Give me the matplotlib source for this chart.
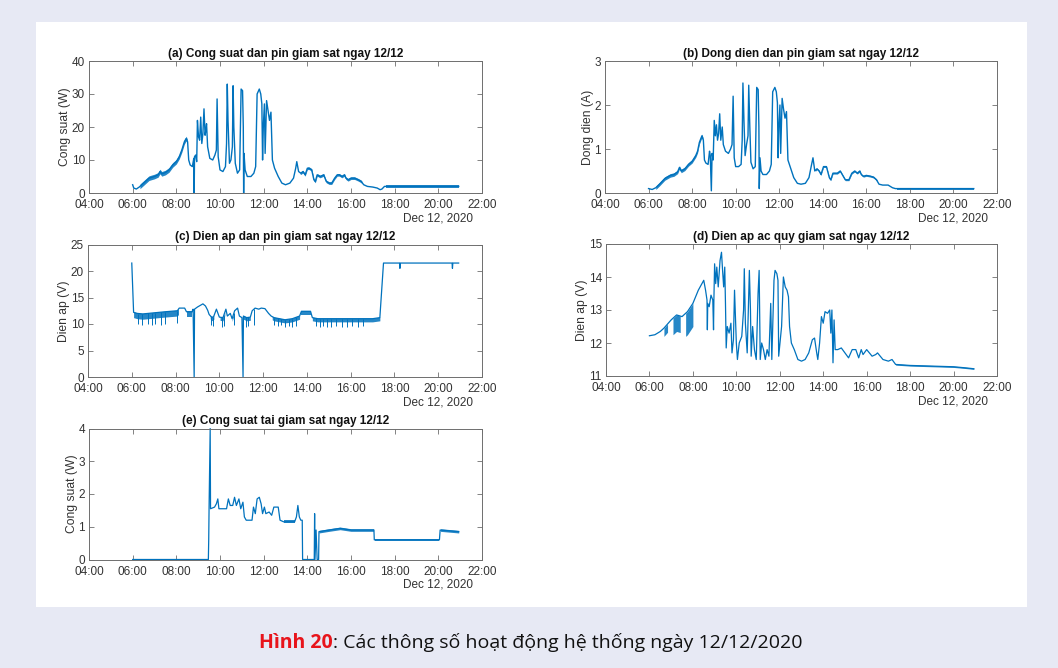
import matplotlib
matplotlib.use("Agg")
import matplotlib.pyplot as plt
from matplotlib.patches import Rectangle
import numpy as np

plt.rcParams['font.family'] = ['Liberation Sans', 'DejaVu Sans']

LINE = '#0072BD'
AXC = '#6e6e6e'
TXT = '#333333'

# ---- (a) panel power, W
a_time = ["6:00", "6:03", "6:10", "6:18", "6:30", "6:45", "7:00", "7:10", "7:15", "7:20",
          "7:30", "7:40", "7:50", "8:00", "8:08", "8:15", "8:22", "8:27", "8:31", "8:34",
          "8:38", "8:44", "8:48", "8:49", "8:50", "8:53", "8:56", "8:58", "9:01", "9:04",
          "9:07", "9:10", "9:13", "9:16", "9:19", "9:21", "9:23", "9:26", "9:32", "9:40",
          "9:46", "9:50", "9:52", "9:55", "10:00", "10:08", "10:15", "10:18", "10:20", "10:22",
          "10:26", "10:30", "10:34", "10:36", "10:38", "10:42", "10:48", "10:54", "10:58", "11:02",
          "11:04", "11:05", "11:06", "11:09", "11:15", "11:25", "11:33", "11:38", "11:42", "11:48",
          "11:52", "11:55", "11:57", "11:59", "12:02", "12:04", "12:08", "12:12", "12:16", "12:20",
          "12:24", "12:30", "12:40", "12:50", "13:00", "13:12", "13:22", "13:28", "13:31", "13:36",
          "13:42", "13:48", "13:54", "14:00", "14:05", "14:12", "14:18", "14:22", "14:27", "14:35",
          "14:45", "14:52", "15:00", "15:07", "15:15", "15:22", "15:28", "15:35", "15:42", "15:46",
          "15:52", "16:00", "16:10", "16:20", "16:28", "16:35", "16:45", "17:00", "17:12", "17:20",
          "17:25", "17:32", "18:00", "19:00", "20:00", "20:56"]
a_val = [2.5, 1.5, 1.2, 1.8, 3.0, 4.5, 5.0, 5.5, 6.5, 5.8,
         6.2, 7.0, 8.5, 9.5, 11.0, 13.0, 15.5, 16.5, 15.5, 10.0,
         8.5, 8.0, 10.5, 0.0, 11.0, 11.5, 9.5, 22.0, 17.0, 16.0,
         23.0, 15.0, 18.0, 25.5, 17.5, 19.0, 21.0, 14.0, 10.5, 10.0,
         11.5, 13.0, 28.5, 11.0, 7.0, 6.5, 8.0, 15.0, 33.0, 22.0,
         9.0, 10.0, 14.0, 32.5, 20.0, 9.0, 6.0, 7.0, 31.5, 31.0,
         20.0, 0.0, 12.0, 7.0, 5.0, 5.0, 6.0, 8.0, 30.0, 31.5,
         30.0, 27.0, 10.0, 20.0, 27.0, 12.0, 28.0, 25.0, 22.0, 24.5,
         10.0, 7.5, 5.0, 3.0, 2.5, 3.0, 4.5, 7.5, 9.5, 6.5,
         6.0, 6.5, 5.5, 7.5, 7.5, 7.0, 4.0, 3.5, 5.5, 5.0,
         5.5, 3.5, 3.0, 3.0, 4.5, 5.5, 5.5, 5.0, 5.5, 4.5,
         4.0, 4.5, 4.5, 4.0, 3.5, 2.5, 2.0, 1.8, 1.5, 1.0,
         1.2, 2.0, 2.0, 2.0, 2.0, 2.0]
# noisy stretches: (start, end, spread below, spread above)
a_band = [("6:20", "8:30", 0.7, 0.7), ("13:40", "16:30", 0.4, 0.4), ("17:35", "20:56", 0.5, 0.5)]

# ---- (b) panel current, A
b_time = ["6:00", "6:10", "6:20", "6:30", "6:45", "7:00", "7:10", "7:20", "7:25", "7:30",
          "7:40", "7:50", "8:00", "8:10", "8:15", "8:20", "8:27", "8:31", "8:34", "8:38",
          "8:44", "8:48", "8:50", "8:53", "8:55", "8:58", "9:01", "9:04", "9:07", "9:10",
          "9:13", "9:16", "9:19", "9:23", "9:26", "9:32", "9:40", "9:46", "9:50", "9:53",
          "9:56", "10:00", "10:08", "10:15", "10:18", "10:20", "10:23", "10:26", "10:30", "10:34",
          "10:36", "10:39", "10:42", "10:48", "10:54", "10:58", "11:02", "11:04", "11:05", "11:07",
          "11:10", "11:15", "11:25", "11:33", "11:38", "11:42", "11:48", "11:52", "11:55", "11:57",
          "11:59", "12:02", "12:04", "12:08", "12:12", "12:16", "12:20", "12:24", "12:30", "12:40",
          "12:50", "13:00", "13:12", "13:22", "13:28", "13:33", "13:38", "13:44", "13:50", "13:55",
          "14:02", "14:10", "14:18", "14:22", "14:28", "14:40", "14:48", "14:55", "15:02", "15:12",
          "15:20", "15:28", "15:35", "15:42", "15:46", "15:52", "16:00", "16:12", "16:20", "16:28",
          "16:35", "16:45", "17:00", "17:12", "17:20", "18:00", "19:00", "20:00", "20:56"]
b_val = [0.10, 0.08, 0.12, 0.20, 0.33, 0.40, 0.42, 0.48, 0.58, 0.50,
         0.55, 0.65, 0.72, 0.85, 0.95, 1.15, 1.30, 1.20, 0.75, 0.68,
         0.65, 0.95, 0.85, 0.05, 0.90, 0.75, 1.65, 1.30, 1.55, 1.20,
         1.35, 1.80, 1.20, 1.50, 1.10, 0.95, 0.90, 1.00, 1.10, 2.20,
         0.80, 0.60, 0.60, 0.65, 1.20, 2.50, 1.60, 0.85, 1.10, 1.30,
         2.45, 1.50, 0.70, 0.55, 0.60, 2.40, 2.35, 1.50, 0.10, 0.80,
         0.50, 0.42, 0.42, 0.50, 0.65, 2.30, 2.40, 2.30, 2.05, 0.80,
         1.50, 2.00, 0.90, 2.15, 1.90, 1.70, 1.85, 0.75, 0.60, 0.35,
         0.22, 0.20, 0.22, 0.35, 0.60, 0.80, 0.50, 0.55, 0.50, 0.42,
         0.60, 0.60, 0.35, 0.30, 0.45, 0.45, 0.50, 0.40, 0.30, 0.30,
         0.45, 0.50, 0.45, 0.50, 0.42, 0.38, 0.40, 0.38, 0.36, 0.30,
         0.20, 0.18, 0.18, 0.12, 0.10, 0.10, 0.10, 0.10, 0.10]
b_band = [("6:20", "8:30", 0.04, 0.04), ("13:40", "16:30", 0.02, 0.02), ("17:25", "20:56", 0.025, 0.025)]

# ---- (c) panel voltage, V
c_time = ["6:00", "6:05", "6:15", "6:30", "7:00", "7:30", "8:05", "8:10", "8:25", "8:30",
          "8:45", "8:48", "8:51", "8:52", "9:00", "9:10", "9:15", "9:22", "9:28", "9:32",
          "9:40", "9:45", "9:52", "10:00", "10:10", "10:18", "10:22", "10:30", "10:35", "10:42",
          "10:50", "10:55", "11:02", "11:05", "11:06", "11:15", "11:25", "11:30", "11:38", "11:48",
          "11:55", "12:05", "12:15", "12:22", "12:30", "12:45", "13:00", "13:20", "13:40", "13:45",
          "14:10", "14:15", "14:30", "15:00", "16:00", "17:00", "17:20", "17:30", "18:14", "18:15",
          "18:16", "20:38", "20:39", "20:40", "20:56"]
c_val = [21.5, 12.2, 12.0, 11.9, 12.1, 12.3, 12.5, 13.0, 13.0, 12.3,
         12.3, 12.8, 0.0, 12.8, 13.2, 13.6, 13.8, 13.4, 12.6, 11.8,
         11.2, 11.5, 12.8, 11.3, 11.2, 12.8, 11.5, 12.0, 11.0, 12.5,
         13.0, 11.5, 11.2, 0.0, 11.5, 11.2, 11.3, 12.5, 13.0, 12.8,
         13.0, 12.9, 12.0, 11.5, 11.2, 11.0, 10.8, 11.0, 11.5, 12.4,
         12.4, 11.2, 11.0, 11.0, 11.0, 11.0, 11.2, 21.5, 21.5, 20.5,
         21.5, 21.5, 20.5, 21.5, 21.5]
c_band = [("6:05", "8:08", 1.0, 0.1), ("8:30", "8:45", 0.9, 0.1), ("9:35", "9:45", 0.6, 0.1),
          ("10:02", "10:15", 0.6, 0.1), ("10:35", "10:40", 0.5, 0.1), ("11:06", "11:25", 0.6, 0.1),
          ("12:25", "13:40", 0.6, 0.1), ("13:45", "14:10", 0.7, 0.1), ("14:15", "17:20", 0.6, 0.1)]
c_dip_time = ["6:18", "6:28", "6:45", "6:55", "7:05", "7:20", "7:30", "8:05", "9:38", "9:43",
              "10:07", "10:12", "10:40", "11:13", "11:18", "11:35", "12:30", "12:40", "12:50", "13:00",
              "13:10", "13:20", "13:30", "14:25", "14:35", "14:45", "14:55", "15:05", "15:20", "15:35",
              "15:50", "16:05", "16:20", "16:35"]
c_dip_val = [10.0, 9.8, 10.0, 9.8, 10.0, 9.8, 10.0, 10.2, 9.8, 9.6,
             9.5, 9.6, 9.8, 9.5, 9.6, 9.8, 9.8, 9.6, 9.8, 9.5,
             9.6, 9.5, 9.6, 9.6, 9.4, 9.6, 9.5, 9.4, 9.6, 9.5,
             9.4, 9.6, 9.5, 9.6]

# ---- (d) battery voltage, V
d_time = ["6:00", "6:15", "6:30", "6:40", "7:00", "7:15", "7:30", "7:45", "8:00", "8:15",
          "8:25", "8:30", "8:35", "8:39", "8:40", "8:41", "8:45", "8:50", "8:55", "8:57",
          "8:58", "9:00", "9:03", "9:06", "9:10", "9:15", "9:19", "9:22", "9:25", "9:28",
          "9:30", "9:32", "9:35", "9:40", "9:45", "9:48", "9:52", "9:55", "10:00", "10:03",
          "10:08", "10:15", "10:20", "10:22", "10:25", "10:30", "10:36", "10:39", "10:41", "10:45",
          "10:50", "10:55", "11:00", "11:03", "11:06", "11:10", "11:15", "11:20", "11:25", "11:30",
          "11:35", "11:38", "11:44", "11:47", "11:52", "11:55", "11:57", "12:05", "12:10", "12:15",
          "12:20", "12:24", "12:27", "12:32", "12:40", "12:50", "13:00", "13:10", "13:20", "13:30",
          "13:36", "13:42", "13:45", "13:50", "13:55", "14:00", "14:05", "14:12", "14:18", "14:21",
          "14:24", "14:27", "14:30", "14:33", "14:40", "14:50", "15:00", "15:10", "15:20", "15:30",
          "15:38", "15:45", "15:50", "16:00", "16:15", "16:25", "16:30", "16:45", "17:00", "17:10",
          "17:20", "18:00", "19:00", "20:00", "20:30", "20:56"]
d_val = [12.22, 12.25, 12.35, 12.45, 12.7, 12.85, 12.8, 12.95, 13.2, 13.6,
         13.8, 13.9, 13.6, 13.3, 12.4, 13.2, 13.1, 13.45, 13.3, 12.4,
         13.3, 14.4, 13.8, 14.3, 13.7, 14.5, 14.75, 14.2, 13.7, 14.3,
         13.2, 11.85, 12.5, 12.3, 12.6, 11.7, 12.1, 13.6, 12.0, 11.5,
         12.0, 12.2, 13.0, 14.25, 12.6, 11.7, 14.2, 13.0, 11.6, 12.5,
         11.8, 11.5, 13.5, 14.2, 11.5, 12.0, 11.8, 11.5, 11.8, 11.6,
         13.2, 11.5, 13.9, 14.2, 14.1, 13.9, 11.6, 12.5, 14.0, 13.7,
         13.6, 13.4, 12.5, 12.0, 11.8, 11.5, 11.45, 11.5, 11.7, 12.1,
         12.15, 11.7, 11.5, 12.0, 12.8, 12.6, 12.95, 12.9, 13.0, 12.3,
         13.0, 11.4, 12.7, 11.8, 11.8, 11.85, 11.7, 11.55, 11.8, 11.8,
         11.55, 11.8, 11.65, 11.8, 11.6, 11.65, 11.7, 11.5, 11.45, 11.5,
         11.35, 11.32, 11.3, 11.28, 11.25, 11.22]
d_band = [("6:40", "6:50", 0.25, 0.0), ("7:05", "7:25", 0.5, 0.0), ("7:40", "8:00", 0.7, 0.0),
          ("17:20", "20:56", 0.02, 0.02)]

# ---- (e) load power, W
e_time = ["6:00", "9:28", "9:29", "9:30", "9:33", "9:34", "9:45", "9:50", "9:54", "9:57",
          "10:18", "10:23", "10:28", "10:35", "10:40", "10:45", "10:52", "10:57", "11:03", "11:07",
          "11:12", "11:28", "11:32", "11:37", "11:42", "11:48", "11:53", "11:57", "12:02", "12:06",
          "12:15", "12:22", "12:28", "12:40", "12:45", "12:55", "13:25", "13:30", "13:34", "13:38",
          "13:42", "13:46", "13:47", "14:19", "14:20", "14:21", "14:24", "14:27", "14:31", "14:32",
          "15:00", "15:30", "16:00", "16:30", "17:03", "17:04", "20:03", "20:05", "20:56"]
e_val = [0.0, 0.0, 0.6, 1.6, 4.0, 1.55, 1.6, 1.7, 1.85, 1.55,
         1.55, 1.85, 1.65, 1.65, 1.9, 1.65, 1.85, 1.55, 1.75, 1.3,
         1.2, 1.2, 1.6, 1.4, 1.85, 1.9, 1.7, 1.4, 1.6, 1.4,
         1.45, 1.35, 1.6, 1.6, 1.2, 1.15, 1.15, 1.3, 1.65, 1.3,
         1.2, 1.2, 0.0, 0.0, 1.4, 0.0, 0.9, 0.0, 0.0, 0.85,
         0.9, 0.95, 0.9, 0.9, 0.9, 0.6, 0.6, 0.9, 0.85]
e_band = [("12:55", "13:25", 0.05, 0.05), ("14:32", "17:02", 0.04, 0.04),
          ("17:05", "20:02", 0.04, 0.04), ("20:06", "20:56", 0.04, 0.04)]


def hours(times):
    out = []
    for s in times:
        h, m = s.split(":")
        out.append(int(h) + int(m) / 60.0)
    return np.array(out)


def setup(ax, title, ylabel, ylim, yticks):
    ax.set_xlim(4, 22)
    ax.set_ylim(*ylim)
    ax.set_xticks(np.arange(4, 23, 2))
    ax.set_xticklabels(["%02d:00" % h for h in range(4, 23, 2)])
    ax.set_yticks(yticks)
    ax.tick_params(direction='in', length=3.5, width=0.6, colors=AXC, labelcolor=TXT,
                   labelsize=8.5, top=True, right=True)
    ax.tick_params(axis='x', pad=4.5)
    ax.tick_params(axis='y', pad=3)
    for sp in ax.spines.values():
        sp.set_color(AXC)
        sp.set_linewidth(0.7)
    ax.set_title(title, fontsize=8.5, fontweight='bold', color='#111111', pad=3)
    ax.set_ylabel(ylabel, fontsize=8.7, color=TXT, labelpad=0.5)
    ax.text(0.978, -0.19, "Dec 12, 2020", transform=ax.transAxes, ha='right', va='center',
            fontsize=8.5, color=TXT)


def draw(ax, times, vals, bands=(), lw=1.0):
    x = hours(times)
    y = np.asarray(vals, dtype=float)
    # dense measurement noise shown as a shaded strip hugging the line
    for t0, t1, below, above in bands:
        a, b = hours([t0, t1])
        inner = (x > a) & (x < b)
        bx = np.concatenate([[a], x[inner], [b]])
        by = np.interp(bx, x, y)
        ax.fill_between(bx, by - below, by + above, color=LINE, alpha=0.85, lw=0)
    ax.plot(x, y, color=LINE, lw=lw)


fig = plt.figure(figsize=(10.58, 6.68), dpi=100)
fig.patch.set_facecolor('#e7e9f4')
fig.patches.append(Rectangle((36 / 1058, 1 - 607 / 668), 991 / 1058, 585 / 668,
                             transform=fig.transFigure, facecolor='white', edgecolor='none',
                             zorder=-5))

ax_a = fig.add_axes([89 / 1058, 1 - 193 / 668, 393 / 1058, 132 / 668])
ax_b = fig.add_axes([605 / 1058, 1 - 193 / 668, 392 / 1058, 132 / 668])
ax_c = fig.add_axes([88 / 1058, 1 - 377 / 668, 394 / 1058, 132.5 / 668])
ax_d = fig.add_axes([606 / 1058, 1 - 376 / 668, 391 / 1058, 132 / 668])
ax_e = fig.add_axes([89 / 1058, 1 - 559.5 / 668, 393 / 1058, 131 / 668])

draw(ax_a, a_time, a_val, a_band, lw=1.0)
setup(ax_a, "(a) Cong suat dan pin giam sat ngay 12/12", "Cong suat (W)", (0, 40), [0, 10, 20, 30, 40])

draw(ax_b, b_time, b_val, b_band, lw=1.0)
setup(ax_b, "(b) Dong dien dan pin giam sat ngay 12/12", "Dong dien (A)", (0, 3), [0, 1, 2, 3])

draw(ax_c, c_time, c_val, c_band, lw=0.9)
c_dip_x = hours(c_dip_time)
ax_c.vlines(c_dip_x, c_dip_val, np.interp(c_dip_x, hours(c_time), c_val), color=LINE, lw=0.7)
setup(ax_c, "(c) Dien ap dan pin giam sat ngay 12/12", "Dien ap (V)", (0, 25), [0, 5, 10, 15, 20, 25])

draw(ax_d, d_time, d_val, d_band, lw=0.9)
setup(ax_d, "(d) Dien ap ac quy giam sat ngay 12/12", "Dien ap (V)", (11, 15), [11, 12, 13, 14, 15])

draw(ax_e, e_time, e_val, e_band, lw=0.9)
setup(ax_e, "(e) Cong suat tai giam sat ngay 12/12", "Cong suat (W)", (0, 4), [0, 1, 2, 3, 4])

# caption: red bold figure number followed by the description
cap_font = ['Open Sans', 'Noto Sans', 'DejaVu Sans']
cap_y = 1 - 643 / 668
fig.canvas.draw()
renderer = fig.canvas.get_renderer()
t1 = fig.text(0, cap_y, "Hình 20", color='#e8141b', fontweight='bold', fontsize=14,
              family=cap_font, va='center', ha='left')
t2 = fig.text(0, cap_y, ": Các thông số hoạt động hệ thống ngày 12/12/2020", color='#111111',
              fontsize=14, family=cap_font, va='center', ha='left')
w1 = t1.get_window_extent(renderer).width
w2 = t2.get_window_extent(renderer).width
x0 = 531 - (w1 + w2) / 2
t1.set_x(x0 / 1058)
t2.set_x((x0 + w1) / 1058)

fig.savefig("out.png", dpi=100, facecolor=fig.get_facecolor())
